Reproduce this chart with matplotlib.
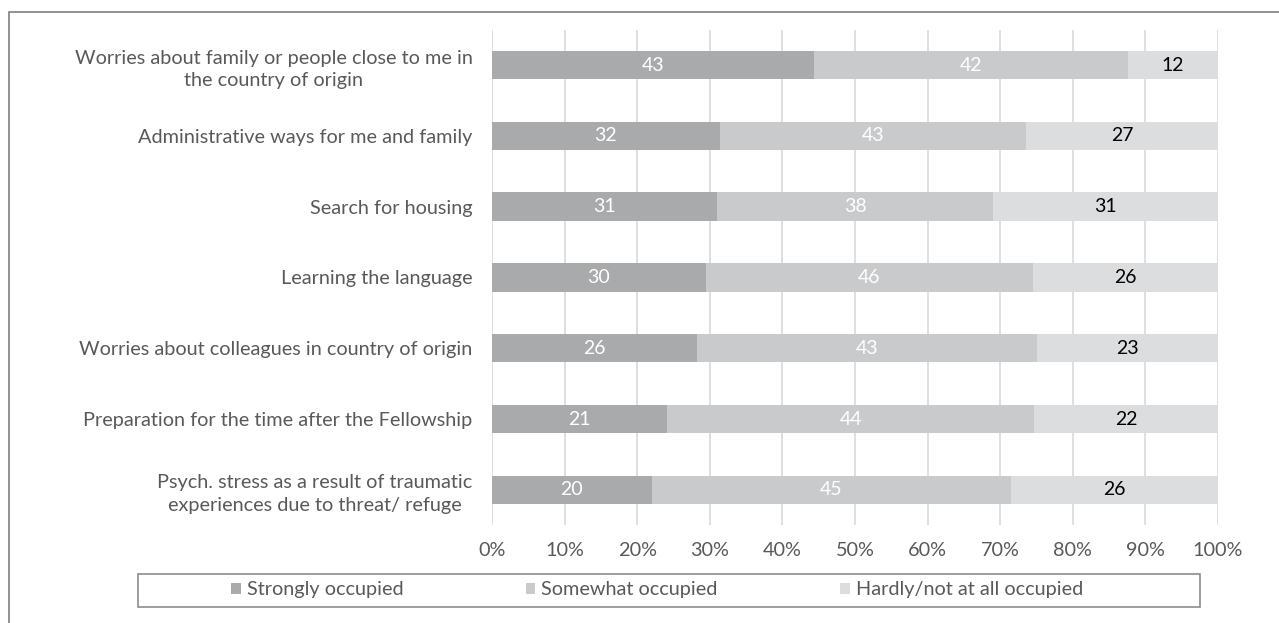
import numpy as np
import matplotlib.pyplot as plt
from matplotlib.patches import Rectangle

categories = [
    'Worries about family or people close to me in\nthe country of origin',
    'Administrative ways for me and family',
    'Search for housing',
    'Learning the language',
    'Worries about colleagues in country of origin',
    'Preparation for the time after the Fellowship',
    'Psych. stress as a result of traumatic\nexperiences due to threat/ refuge',
]
strongly = [43, 32, 31, 30, 26, 21, 20]
somewhat = [42, 43, 38, 46, 43, 44, 45]
hardly = [12, 27, 31, 26, 23, 22, 26]

series = ['Strongly occupied', 'Somewhat occupied', 'Hardly/not at all occupied']
colors = ['#a9aaac', '#c9cacc', '#dcdddf']
label_colors = ['white', 'white', 'black']

plt.rcParams['font.family'] = ['Lato', 'DejaVu Sans']
text_color = '#595959'

fig = plt.figure(figsize=(12.79, 6.23), dpi=100)
ax = fig.add_axes([0.3847, 0.1567, 0.5676, 0.7958])

counts = np.array([strongly, somewhat, hardly], dtype=float)
shares = counts / counts.sum(axis=0)
y = np.arange(len(categories))

left = np.zeros(len(categories))
for i in range(3):
    bars = ax.barh(y, shares[i], left=left, height=0.4, color=colors[i],
                   label=series[i], zorder=2)
    ax.bar_label(bars, labels=[str(int(v)) for v in counts[i]], label_type='center',
                 color=label_colors[i], fontsize=14)
    left += shares[i]

ax.set_xlim(0, 1)
ax.set_ylim(len(categories) - 0.5, -0.5)
ax.set_yticks(y)
ax.set_yticklabels(categories, fontsize=14.3, color=text_color, linespacing=1.4,
                   multialignment='center')
ax.set_xticks(np.linspace(0, 1, 11))
ax.set_xticklabels([f'{p}%' for p in range(0, 101, 10)], fontsize=14.3, color=text_color)
ax.tick_params(length=0, pad=14)
ax.tick_params(axis='x', pad=12)
ax.xaxis.grid(True, color='#d9d9d9', linewidth=1.2, zorder=0)
for s in ax.spines.values():
    s.set_visible(False)

# legend box
fig.patches.append(Rectangle((138 / 1279, 1 - 607 / 623), 1062 / 1279, 33 / 623,
                             transform=fig.transFigure, fill=False,
                             edgecolor='#8c8c8c', linewidth=1.2))
# outer frame
fig.patches.append(Rectangle((9 / 1279, -0.1), 1.2, 1.1 - 12 / 623,
                             transform=fig.transFigure, fill=False,
                             edgecolor='#7f7f7f', linewidth=1.2))

leg = fig.legend(loc='center', bbox_to_anchor=(657 / 1279, 1 - 590 / 623), ncol=3,
                 frameon=False, fontsize=14.3, handlelength=0.5, handleheight=0.5,
                 handletextpad=0.3, columnspacing=6.15, labelcolor=text_color)

fig.savefig('out.png', dpi=100)
